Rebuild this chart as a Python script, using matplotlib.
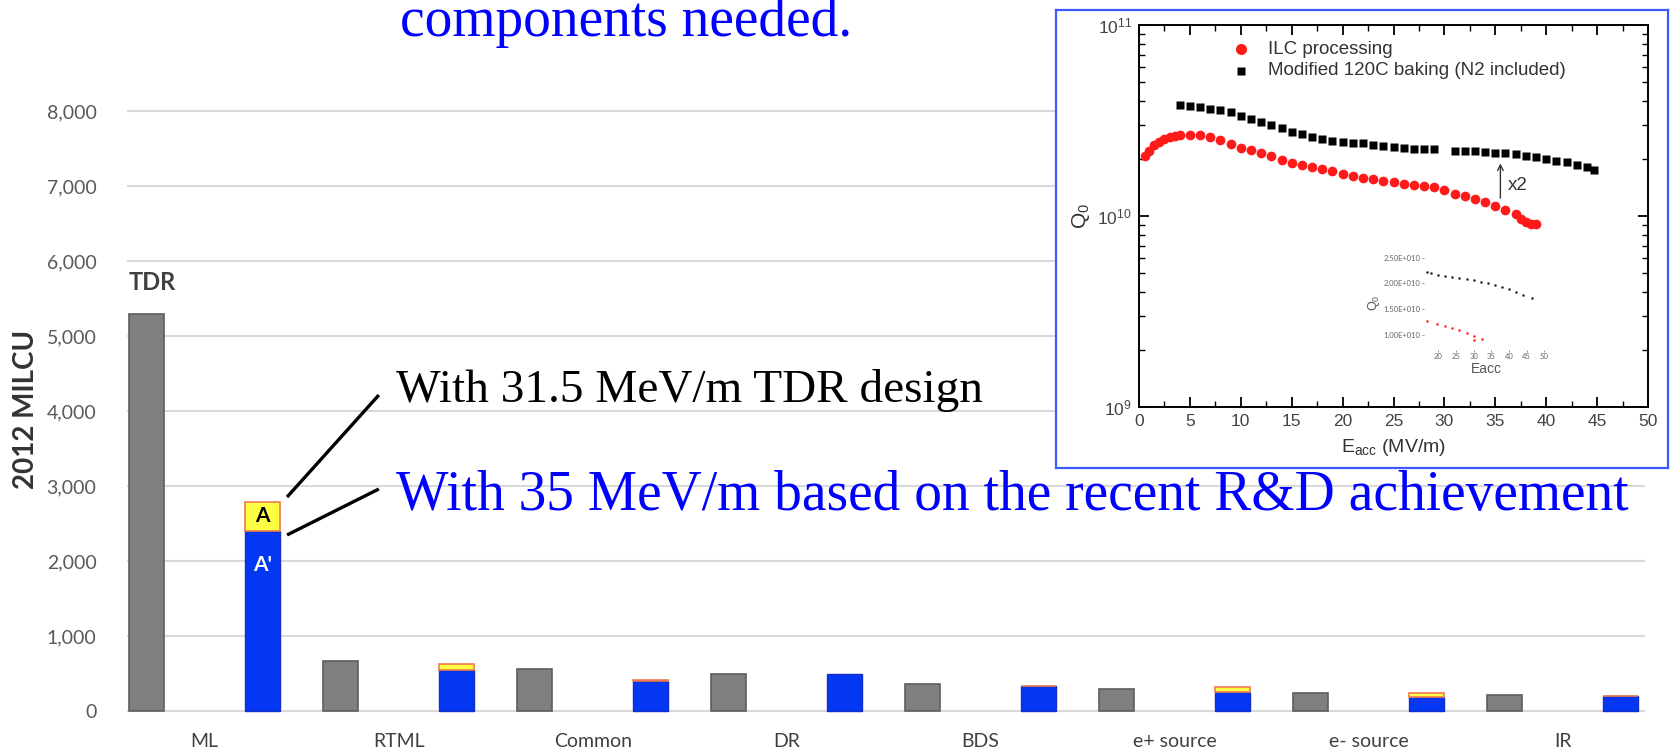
import matplotlib
matplotlib.use('Agg')
import matplotlib.pyplot as plt
import numpy as np
from matplotlib.ticker import MultipleLocator, LogLocator, FixedLocator, NullFormatter

# main bar chart (2012 MILCU)
categories = ['ML', 'RTML', 'Common', 'DR', 'BDS', 'e+ source', 'e- source', 'IR']
tdr = [5300, 670, 560, 490, 360, 300, 235, 210]
a_prime = [2400, 550, 400, 490, 330, 260, 185, 200]
a_extra = [390, 80, 10, 0, 5, 65, 50, 5]
y_ticks = [0, 1000, 2000, 3000, 4000, 5000, 6000, 7000, 8000]

# inset: Q0 vs Eacc (Q0 in units of 1e10)
ilc_e = [0.6, 1.0, 1.5, 2.0, 2.5, 3.0, 3.5, 4.0, 5.0, 6.0, 7.0, 8.0, 9.0, 10.0,
         11.0, 12.0, 13.0, 14.0, 15.0, 16.0, 17.0, 18.0, 19.0, 20.0, 21.0, 22.0,
         23.0, 24.0, 25.0, 26.0, 27.0, 28.0, 29.0, 30.0, 31.0, 32.0, 33.0, 34.0,
         35.0, 36.0, 37.0, 37.5, 38.0, 38.5, 39.0]
ilc_q = [2.05, 2.2, 2.35, 2.45, 2.52, 2.58, 2.62, 2.65, 2.66, 2.64, 2.58, 2.5,
         2.38, 2.28, 2.22, 2.13, 2.05, 1.97, 1.9, 1.86, 1.81, 1.77, 1.73, 1.66,
         1.62, 1.58, 1.56, 1.53, 1.5, 1.47, 1.45, 1.43, 1.41, 1.36, 1.31, 1.27,
         1.23, 1.18, 1.13, 1.08, 1.02, 0.97, 0.93, 0.91, 0.91]
baked_e = [4, 5, 6, 7, 8, 9, 10, 11, 12, 13, 14, 15, 16, 17, 18, 19, 20, 21, 22,
           23, 24, 25, 26, 27, 28, 29, 31, 32, 33, 34, 35, 36, 37, 38, 39, 40,
           41, 42, 43, 44, 44.7]
baked_q = [3.8, 3.75, 3.7, 3.65, 3.58, 3.5, 3.35, 3.22, 3.1, 2.98, 2.88, 2.75,
           2.68, 2.6, 2.53, 2.48, 2.45, 2.42, 2.4, 2.35, 2.32, 2.3, 2.28, 2.25,
           2.23, 2.23, 2.2, 2.2, 2.18, 2.17, 2.15, 2.13, 2.1, 2.07, 2.03, 1.99,
           1.95, 1.91, 1.86, 1.8, 1.75]
inset_xticks = [0, 5, 10, 15, 20, 25, 30, 35, 40, 45, 50]
inset_yticks = [1e9, 1e10, 1e11]
inset_ylabels = [r'$\mathregular{10^{9}}$', r'$\mathregular{10^{10}}$', r'$\mathregular{10^{11}}$']

# tiny picture inside the inset
tiny_black_e = [16.8, 18, 20, 22, 24, 26, 28, 30, 32, 34, 36, 38, 40, 42, 44, 46.5]
tiny_black_q = [2.22, 2.19, 2.16, 2.15, 2.13, 2.11, 2.08, 2.06, 2.03, 2.0, 1.96,
                1.92, 1.88, 1.83, 1.78, 1.72]
tiny_red_e = [16.8, 19.6, 22, 24, 26, 28, 30, 30.2, 32.3]
tiny_red_q = [1.26, 1.2, 1.16, 1.12, 1.08, 1.03, 0.97, 0.9, 0.91]
tiny_xticks = [20, 25, 30, 35, 40, 45, 50]
tiny_yticks = [1.0, 1.5, 2.0, 2.5]
tiny_ylabels = ['1.00E+010', '1.50E+010', '2.00E+010', '2.50E+010']
tiny_grid_x = [30, 40]
tiny_grid_y = [1.5, 2.5]

W, H = 1671, 756


def px_rect(l, t, r, b):
    return [l / W, 1 - b / H, (r - l) / W, (b - t) / H]


plt.rcParams['font.family'] = ['Lato', 'DejaVu Sans']

fig = plt.figure(figsize=(W / 100, H / 100), dpi=100)
fig.patch.set_facecolor('white')

ax = fig.add_axes(px_rect(127, 108, 1645, 714))
x = np.arange(len(categories))
ax.bar(x - 0.3, tdr, 0.18, color='#7f7f7f', edgecolor='#5e5e5e', lw=1.2, zorder=3)
ax.bar(x + 0.3, a_prime, 0.18, color='#0437f2', edgecolor='#1030c8', lw=1.0, zorder=3)
for xi, base, extra in zip(x, a_prime, a_extra):
    if extra > 0:
        ax.bar(xi + 0.3, extra, 0.18, bottom=base, color='#ffff44',
               edgecolor='#f07a50', lw=1.2, zorder=3)

ax.set_xlim(-0.40, 7.424)
ax.set_ylim(-40, 8040)
ax.set_yticks(y_ticks)
ax.set_yticklabels([f'{v:,}' for v in y_ticks])
ax.set_xticks(x)
ax.set_xticklabels(categories)
ax.tick_params(axis='y', length=0, pad=22, labelsize=14, labelcolor='#595959')
ax.tick_params(axis='x', length=0, pad=14, labelsize=14, labelcolor='#404040')
ax.yaxis.grid(True, color='#d9d9d9', lw=1.5)
ax.set_axisbelow(True)
for s in ax.spines.values():
    s.set_visible(False)

fig.text(26 / W, 1 - 409 / H, '2012 MILCU', rotation=90, ha='center', va='center',
         fontsize=20, fontweight='bold', color='#333333')

ax.text(-0.27, 5707, 'TDR', ha='center', va='center', fontsize=17,
        fontweight='bold', color='#404040')
ax.text(0.3, a_prime[0] + a_extra[0] / 2, 'A', ha='center', va='center',
        fontsize=15, fontweight='bold', color='black', zorder=4)
ax.text(0.3, 1950, "A'", ha='center', va='center', fontsize=15,
        fontweight='bold', color='white', zorder=4)

# leader lines + annotations
ax.plot([0.898, 0.425], [4213, 2853], color='black', lw=2.4, clip_on=False,
        solid_capstyle='butt', zorder=5)
ax.plot([0.898, 0.425], [2960, 2347], color='black', lw=2.4, clip_on=False,
        solid_capstyle='butt', zorder=5)
ax.text(0.986, 4120, 'With 31.5 MeV/m TDR design', family='Liberation Serif',
        fontsize=34, va='baseline', color='black')
ax.text(0.986, 2680, 'With 35 MeV/m based on the recent R&D achievement',
        family='Liberation Serif', fontsize=40, va='baseline', color='#0000ff')

fig.text(400 / W, 1 - 36 / H, 'components needed.', family='Liberation Serif',
         fontsize=40, va='baseline', color='#0000ff')

# inset frame
bx = fig.add_axes(px_rect(1056, 10, 1668, 468))
bx.set_xticks([])
bx.set_yticks([])
bx.set_facecolor('white')
for s in bx.spines.values():
    s.set_color('#3d5afe')
    s.set_linewidth(1.6)

ix = fig.add_axes(px_rect(1139, 25, 1648, 407))
ix.set_yscale('log')
ix.plot(ilc_e, np.array(ilc_q) * 1e10, 'o', color='#ff1a1a', ms=7, mec='none')
ix.plot(baked_e, np.array(baked_q) * 1e10, 's', color='black', ms=6, mec='none')
ix.set_xlim(0, 50)
ix.set_ylim(1e9, 1e11)
ix.set_xticks(inset_xticks)
ix.xaxis.set_minor_locator(MultipleLocator(2.5))
ix.yaxis.set_major_locator(FixedLocator(inset_yticks))
ix.set_yticklabels(inset_ylabels)
ix.yaxis.set_minor_locator(LogLocator(base=10, subs=np.arange(2, 10)))
ix.yaxis.set_minor_formatter(NullFormatter())
ix.tick_params(which='both', direction='in', top=True, right=True,
               labelsize=12.5, labelcolor='#444444', labelfontfamily='Liberation Sans')
ix.tick_params(which='major', length=7, width=1.3, pad=5)
ix.tick_params(which='minor', length=4, width=1.0)
for s in ix.spines.values():
    s.set_linewidth(1.4)
ix.set_xlabel(r'$\mathregular{E_{acc}}$ (MV/m)', fontsize=14, family='Liberation Sans',
              color='#333333', labelpad=6)
ix.set_ylabel(r'$\mathregular{Q_0}$', fontsize=15, family='Liberation Sans',
              color='#333333', labelpad=4)

# legend drawn by hand like the original picture
ix.plot([10], [7.47e10], 'o', color='#ff1a1a', ms=8, mec='none')
ix.text(12.7, 7.47e10, 'ILC processing', va='center', fontsize=13.5,
        family='Liberation Sans', color='#333333')
ix.plot([10], [5.77e10], 's', color='black', ms=6, mec='none')
ix.text(12.7, 5.77e10, 'Modified 120C baking (N2 included)', va='center',
        fontsize=13.5, family='Liberation Sans', color='#333333')

ix.annotate('', xy=(35.5, 1.95e10), xytext=(35.5, 1.2e10),
            arrowprops=dict(arrowstyle='->', color='#333333', lw=1.0))
ix.text(36.2, 1.45e10, 'x2', va='center', fontsize=13.5, family='Liberation Sans',
        color='#333333')

# tiny picture
tx = fig.add_axes(px_rect(1424, 255, 1548, 350))
tx.set_facecolor('white')
tx.plot(tiny_black_e, tiny_black_q, 'o', color='#222222', ms=1.8, mec='none')
tx.plot(tiny_red_e, tiny_red_q, 'o', color='#ff2020', ms=1.8, mec='none')
tx.set_xlim(16, 51)
tx.set_ylim(0.7, 2.55)
tx.set_xticks(tiny_xticks)
tx.set_yticks(tiny_yticks)
tx.set_yticklabels(tiny_ylabels)
tx.set_xticks(tiny_grid_x, minor=True)
tx.set_yticks(tiny_grid_y, minor=True)
tx.grid(True, which='minor', color='#bbbbbb', lw=0.6)
tx.tick_params(which='both', length=1.5, width=0.5, labelsize=5.5, colors='#666666', pad=1)
for s in tx.spines.values():
    s.set_visible(False)
tx.set_xlabel('Eacc', fontsize=10, family='Liberation Sans', color='#555555', labelpad=1)
tx.set_ylabel(r'$\mathregular{Q_0}$', fontsize=9, family='Liberation Sans',
              color='#555555', labelpad=1)

fig.savefig('out.png', dpi=100)
